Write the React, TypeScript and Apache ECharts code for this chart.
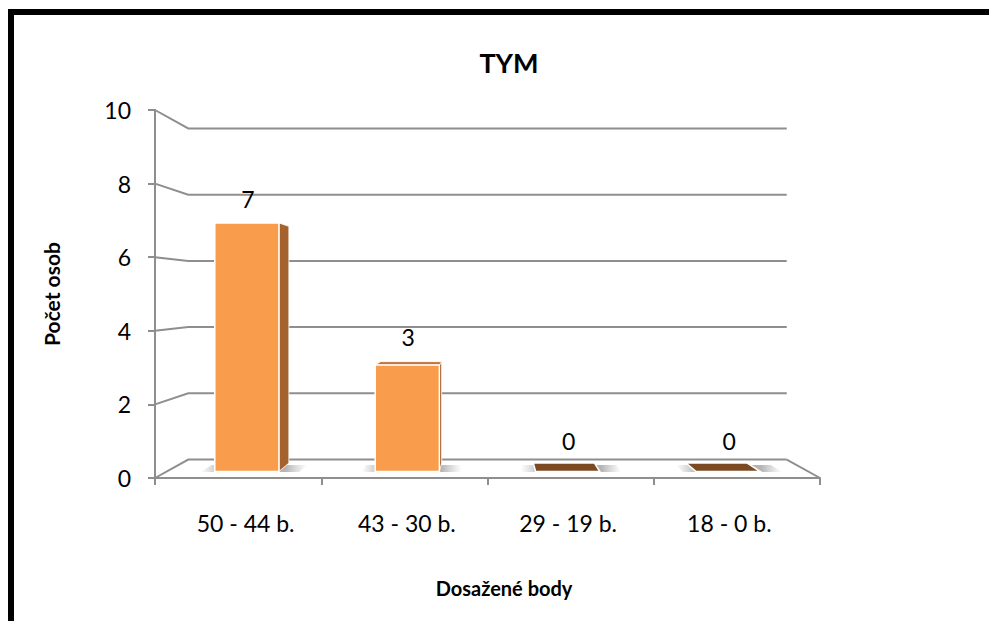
import React, { useEffect, useRef } from "react";
import * as echarts from "echarts";

const categories = ["50 - 44 b.", "43 - 30 b.", "29 - 19 b.", "18 - 0 b."];
const values = [7, 3, 0, 0];
const yTicks = [0, 2, 4, 6, 8, 10];
const chartTitle = "TYM";
const yTitle = "Počet osob";
const xTitle = "Dosažené body";

const FONT = "Lato, 'Open Sans', sans-serif";
const GRID_COLOR = "#8E8E8E";
const WALL_DEPTH = 0.9;
const BAR_FRONT = 0.965;
const BAR_BACK = 0.919;
const LABEL_DEPTH = 0.97;

function proj(p: number[], c: number[], s: number) {
  return [c[0] + s * (p[0] - c[0]), c[1] + s * (p[1] - c[1])];
}

function center(api: any) {
  const a = api.coord([0, 0]);
  const b = api.coord([categories.length - 1, 0]);
  const m = api.coord([0, 5]);
  return [(a[0] + b[0]) / 2, m[1]];
}

export default function App() {
  const ref = useRef<HTMLDivElement>(null);
  useEffect(() => {
    if (!ref.current) return;
    const chart = echarts.init(ref.current, null, { renderer: "svg" });

    const gridRender = (params: any, api: any) => {
      const v = api.value(1);
      const c = center(api);
      const bw = api.size([1, 0])[0];
      const left = api.coord([0, v])[0] - bw / 2;
      const right = api.coord([categories.length - 1, v])[0] + bw / 2;
      const y = api.coord([0, v])[1];
      const p1 = [left, y];
      const p2 = proj([left, y], c, WALL_DEPTH);
      const p3 = proj([right, y], c, WALL_DEPTH);
      const children: any[] = [
        {
          type: "polyline",
          shape: { points: [p1, p2, p3] },
          style: { stroke: GRID_COLOR, lineWidth: 2, fill: null },
        },
      ];
      if (v === 0) {
        children.push({
          type: "line",
          shape: { x1: p3[0], y1: p3[1], x2: right, y2: y },
          style: { stroke: GRID_COLOR, lineWidth: 2 },
        });
      }
      return { type: "group", children };
    };

    const barRender = (params: any, api: any) => {
      const i = api.value(0);
      const v = api.value(1);
      const c = center(api);
      const bw = api.size([1, 0])[0];
      const half = bw * 0.2;
      const base = api.coord([i, 0]);
      const top = api.coord([i, v]);
      const TL = [base[0] - half, top[1]];
      const TR = [base[0] + half, top[1]];
      const BL = [base[0] - half, base[1]];
      const BR = [base[0] + half, base[1]];
      const fTL = proj(TL, c, BAR_FRONT);
      const fTR = proj(TR, c, BAR_FRONT);
      const fBL = proj(BL, c, BAR_FRONT);
      const fBR = proj(BR, c, BAR_FRONT);
      const bTL = proj(TL, c, BAR_BACK);
      const bTR = proj(TR, c, BAR_BACK);
      const bBL = proj(BL, c, BAR_BACK);
      const bBR = proj(BR, c, BAR_BACK);
      const children: any[] = [];

      // floor shadow
      const sL = [base[0] - half - 14, base[1]];
      const sR = [base[0] + half + 22, base[1]];
      const s1 = proj(sL, c, 0.968);
      const s2 = proj(sR, c, 0.968);
      const s3 = proj(sR, c, 0.93);
      const s4 = proj(sL, c, 0.93);
      children.push({
        type: "polygon",
        shape: { points: [s1, s2, s3, s4] },
        style: {
          fill: new echarts.graphic.LinearGradient(0, 0, 1, 0, [
            { offset: 0, color: "rgba(140,140,140,0)" },
            { offset: 0.2, color: "rgba(120,120,120,0.55)" },
            { offset: 0.8, color: "rgba(120,120,120,0.55)" },
            { offset: 1, color: "rgba(140,140,140,0)" },
          ]),
        },
      });

      if (v > 0) {
        if (base[0] < c[0]) {
          children.push({
            type: "polygon",
            shape: { points: [fTR, bTR, bBR, fBR] },
            style: { fill: "#A5622C", stroke: "#fff", lineWidth: 0.8 },
          });
        } else {
          children.push({
            type: "polygon",
            shape: { points: [fTL, bTL, bBL, fBL] },
            style: { fill: "#A5622C", stroke: "#fff", lineWidth: 0.8 },
          });
        }
        if (top[1] > c[1]) {
          children.push({
            type: "polygon",
            shape: { points: [fTL, fTR, bTR, bTL] },
            style: { fill: "#C0743A", stroke: "#fff", lineWidth: 0.8 },
          });
        }
        children.push({
          type: "polygon",
          shape: { points: [fTL, fTR, fBR, fBL] },
          style: { fill: "#F99D4C", stroke: "#fff", lineWidth: 1.5 },
        });
      } else {
        children.push({
          type: "polygon",
          shape: { points: [fTL, fTR, bTR, bTL] },
          style: { fill: "#7B4A22", stroke: "#fff", lineWidth: 1.5 },
        });
      }

      const mid = proj([base[0], top[1]], c, (BAR_FRONT + BAR_BACK) / 2);
      const fc = proj([base[0], top[1]], c, BAR_FRONT);
      children.push({
        type: "text",
        style: {
          x: fc[0] + 1,
          y: mid[1] - 26,
          text: String(values[i]),
          fill: "#000",
          font: `23px ${FONT}`,
          align: "center",
          verticalAlign: "middle",
        },
      });
      const lc = proj(base, c, LABEL_DEPTH);
      children.push({
        type: "text",
        style: {
          x: lc[0],
          y: base[1] + 45,
          text: categories[i],
          fill: "#000",
          font: `23px ${FONT}`,
          align: "center",
          verticalAlign: "middle",
        },
      });
      return { type: "group", children };
    };

    chart.setOption({
      animation: false,
      backgroundColor: "#fff",
      title: {
        text: chartTitle,
        left: 504,
        top: 44,
        textAlign: "center",
        textStyle: { fontFamily: FONT, fontWeight: "bold", fontSize: 27, color: "#000" },
      },
      graphic: [
        { type: "rect", shape: { x: 8, y: 9, width: 981, height: 6 }, style: { fill: "#000" } },
        { type: "rect", shape: { x: 8, y: 9, width: 6, height: 612 }, style: { fill: "#000" } },
      ],
      grid: { left: 155, right: 169, top: 110, bottom: 143, containLabel: false },
      xAxis: {
        type: "category",
        data: categories,
        name: xTitle,
        nameLocation: "middle",
        nameGap: 100,
        nameTextStyle: {
          fontFamily: FONT,
          fontWeight: "bold",
          fontSize: 20,
          color: "#000",
          padding: [0, 0, 0, 33],
        },
        axisLine: { show: true, lineStyle: { color: GRID_COLOR, width: 2 } },
        axisTick: { show: true, length: 7, alignWithLabel: false, lineStyle: { color: GRID_COLOR, width: 2 } },
        axisLabel: { show: false },
        splitLine: { show: false },
      },
      yAxis: {
        type: "value",
        min: 0,
        max: 10,
        interval: 2,
        name: yTitle,
        nameLocation: "middle",
        nameRotate: 90,
        nameGap: 93,
        nameTextStyle: { fontFamily: FONT, fontWeight: "bold", fontSize: 21, color: "#000" },
        axisLine: { show: true, lineStyle: { color: GRID_COLOR, width: 2 } },
        axisTick: { show: true, length: 7, lineStyle: { color: GRID_COLOR, width: 2 } },
        axisLabel: { margin: 24, fontFamily: FONT, fontSize: 23, color: "#000" },
        splitLine: { show: false },
      },
      series: [
        {
          type: "custom",
          name: "grid",
          data: yTicks.map((v) => [0, v]),
          renderItem: gridRender,
          silent: true,
          z: 1,
        },
        {
          type: "custom",
          name: "bars",
          data: values.map((v, i) => [i, v]),
          renderItem: barRender,
          z: 3,
        },
      ],
    });
    return () => chart.dispose();
  }, []);
  return (
    <div
      ref={ref}
      style={{ position: "absolute", left: 0, top: 0, width: 989, height: 621 }}
    />
  );
}
